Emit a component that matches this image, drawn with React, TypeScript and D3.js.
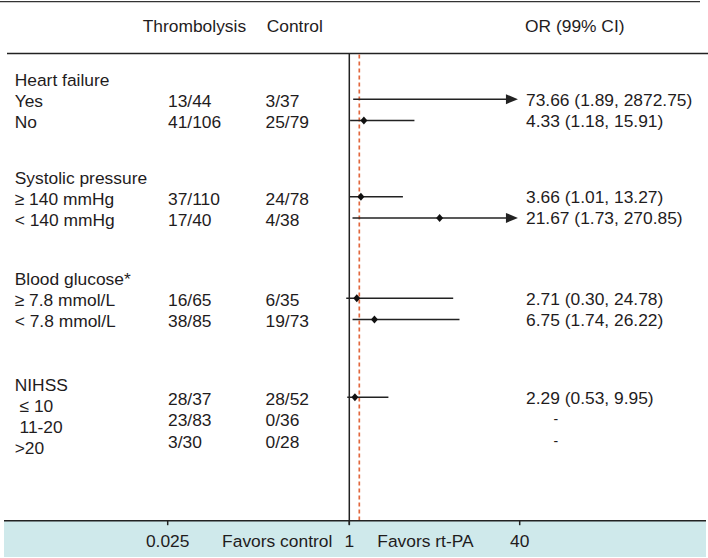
import React from "react";
import * as d3 from "d3";

// ---------- data ----------
const groupNames = ["Heart failure", "Systolic pressure", "Blood glucose*", "NIHSS"];
const groupSizes = [2, 2, 2, 3];
const subgroupLabels = [
  "Yes", "No",
  "\u2265 140 mmHg", "< 140 mmHg",
  "\u2265 7.8 mmol/L", "< 7.8 mmol/L",
  "\u00a0\u2264 10", "\u00a011-20", ">20",
];
const thrombolysis = ["13/44", "41/106", "37/110", "17/40", "16/65", "38/85", "28/37", "23/83", "3/30"];
const control = ["3/37", "25/79", "24/78", "4/38", "6/35", "19/73", "28/52", "0/36", "0/28"];
const orValues: (number | null)[] = [73.66, 4.33, 3.66, 21.67, 2.71, 6.75, 2.29, null, null];
const ciLower: (number | null)[] = [1.89, 1.18, 1.01, 1.73, 0.3, 1.74, 0.53, null, null];
const ciUpper: (number | null)[] = [2872.75, 15.91, 13.27, 270.85, 24.78, 26.22, 9.95, null, null];
const axisTicks = [0.025, 1, 40];
const referenceOR = 3.29;
const headers = ["Thrombolysis", "Control", "OR (99% CI)"];
const favorLabels = ["Favors control", "Favors rt-PA"];

// ---------- layout ----------
const W = 708;
const H = 558;
const FONT = "'Liberation Sans', Arial, Helvetica, sans-serif";
const FS = 17.4;
const TEXT = "#1f1c1d";
const GROUP_TOPS = [80, 177.5, 279, 384.5];
const ROW_STEP = 21.2;
const DATA_SHIFT = [0, 0, 0, -6.5];
const HEADER_LINE_Y = 53.5;
const AXIS_Y = 520.7;

const x = d3.scaleLinear().domain([1, 40]).range([349.3, 519.7]);
const axisScale = d3.scaleLinear().domain(axisTicks).range([167.7, x(1), x(40)]);
const xMax = 39.6;

type Row = {
  label: string; g: number; y: number; dy: number;
  t: string; c: string; or: number | null; lo: number | null; hi: number | null;
};

const rows: Row[] = [];
{
  let k = 0;
  groupNames.forEach((_, g) => {
    for (let i = 0; i < groupSizes[g]; i++) {
      rows.push({
        label: subgroupLabels[k], g,
        y: GROUP_TOPS[g] + ROW_STEP * (i + 1),
        dy: DATA_SHIFT[g],
        t: thrombolysis[k], c: control[k],
        or: orValues[k], lo: ciLower[k], hi: ciUpper[k],
      });
      k++;
    }
  });
}

const base = (yc: number) => yc + FS * 0.35;
const fmt = d3.format(".2f");

export default function App() {
  return (
    <svg
      width={W}
      height={H}
      viewBox={`0 0 ${W} ${H}`}
      style={{ position: "absolute", left: 0, top: 0, background: "#fff" }}
      fontFamily={FONT}
      fontSize={FS}
      fill={TEXT}
    >
      <rect x={0} y={0} width={W} height={H} fill="#fff" />
      {/* bottom band */}
      <rect x={4} y={AXIS_Y} width={702} height={H - AXIS_Y - 1} fill="#cfe9eb" />

      {/* top rule & header rule */}
      <line x1={0} x2={700} y1={1.7} y2={1.7} stroke="#333" strokeWidth={1.3} />
      <line x1={7} x2={708} y1={HEADER_LINE_Y} y2={HEADER_LINE_Y} stroke="#222" strokeWidth={1.5} />

      {/* headers */}
      <text x={142.7} y={base(26)}>{headers[0]}</text>
      <text x={266.7} y={base(26)}>{headers[1]}</text>
      <text x={525} y={base(26)}>{headers[2]}</text>

      {/* group titles */}
      {groupNames.map((g, i) => (
        <text key={g} x={14.7} y={base(GROUP_TOPS[i])}>{g}</text>
      ))}

      {/* rows text */}
      {rows.map((r, i) => (
        <g key={i}>
          <text x={14.7} y={base(r.y)}>{r.label}</text>
          <text x={168} y={base(r.y + r.dy)}>{r.t}</text>
          <text x={265.5} y={base(r.y + r.dy)}>{r.c}</text>
          {r.or !== null ? (
            <text x={526} y={base(r.y + r.dy - 1.5)}>
              {`${fmt(r.or)} (${fmt(r.lo as number)}, ${fmt(r.hi as number)})`}
            </text>
          ) : (
            <text x={553.5} y={base(r.y + r.dy - 2)} fontSize={14}>-</text>
          )}
        </g>
      ))}

      {/* null line and reference line */}
      <line x1={x(1)} x2={x(1)} y1={HEADER_LINE_Y} y2={AXIS_Y + 4} stroke="#222" strokeWidth={1.5} />
      <line
        x1={x(referenceOR)} x2={x(referenceOR)} y1={HEADER_LINE_Y + 1} y2={AXIS_Y}
        stroke="#e2683e" strokeWidth={1.7} strokeDasharray="4 3"
      />

      {/* CI lines and points */}
      {rows.map((r, i) => {
        if (r.or === null) return null;
        const yc = r.y + r.dy - 2;
        const lo = x(r.lo as number);
        const clipped = (r.hi as number) > xMax;
        const hiX = x(clipped ? xMax : (r.hi as number));
        const showPoint = r.or <= xMax;
        const px = x(r.or);
        return (
          <g key={"m" + i}>
            <line x1={lo} x2={clipped ? hiX - 8 : hiX} y1={yc} y2={yc} stroke="#222" strokeWidth={1.5} />
            {clipped && (
              <path d={`M${hiX},${yc} L${hiX - 12},${yc - 5} L${hiX - 12},${yc + 5} Z`} fill="#222" />
            )}
            {showPoint && (
              <path d={`M${px},${yc - 4} L${px + 3.5},${yc} L${px},${yc + 4} L${px - 3.5},${yc} Z`} fill="#111" />
            )}
          </g>
        );
      })}

      {/* axis */}
      <line x1={4} x2={706} y1={AXIS_Y} y2={AXIS_Y} stroke="#222" strokeWidth={1.5} />
      {axisTicks.map((t) => (
        <g key={t}>
          <line x1={axisScale(t)} x2={axisScale(t)} y1={AXIS_Y} y2={AXIS_Y + 4.5} stroke="#222" strokeWidth={1.5} />
          <text x={axisScale(t)} y={546.5} textAnchor="middle">{String(t)}</text>
        </g>
      ))}
      <text x={x(1) - 17} y={546.5} textAnchor="end">{favorLabels[0]}</text>
      <text x={x(1) + 28} y={546.5}>{favorLabels[1]}</text>
    </svg>
  );
}
